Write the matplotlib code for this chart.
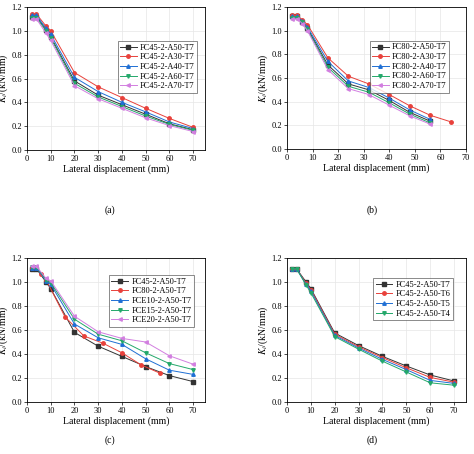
import matplotlib
matplotlib.use("Agg")
import matplotlib.pyplot as plt

plt.rcParams['font.family'] = ['Liberation Serif', 'DejaVu Serif']
plt.rcParams['mathtext.fontset'] = 'stix'

xa = [2, 4, 8, 10, 20, 30, 40, 50, 60, 70]
a_labels = ["FC45-2-A50-T7", "FC45-2-A30-T7", "FC45-2-A40-T7", "FC45-2-A60-T7", "FC45-2-A70-T7"]
a_vals = [
    [1.12, 1.12, 1.01, 0.95, 0.58, 0.46, 0.38, 0.30, 0.22, 0.17],
    [1.14, 1.14, 1.04, 1.00, 0.65, 0.53, 0.44, 0.35, 0.265, 0.19],
    [1.13, 1.13, 1.02, 0.97, 0.61, 0.49, 0.40, 0.32, 0.235, 0.18],
    [1.11, 1.11, 1.00, 0.94, 0.56, 0.445, 0.365, 0.285, 0.215, 0.165],
    [1.10, 1.10, 0.98, 0.92, 0.54, 0.43, 0.35, 0.27, 0.205, 0.155],
]

xb = [2, 4, 6, 8, 16, 24, 32, 40, 48, 56]
xb30 = [2, 4, 6, 8, 16, 24, 32, 40, 48, 56, 64]
b_labels = ["FC80-2-A50-T7", "FC80-2-A30-T7", "FC80-2-A40-T7", "FC80-2-A60-T7", "FC80-2-A70-T7"]
b_vals = [
    [1.12, 1.12, 1.07, 1.02, 0.71, 0.55, 0.50, 0.41, 0.31, 0.235],
    [1.13, 1.13, 1.09, 1.05, 0.77, 0.615, 0.55, 0.46, 0.365, 0.285, 0.23],
    [1.12, 1.12, 1.08, 1.03, 0.74, 0.575, 0.52, 0.43, 0.33, 0.25],
    [1.11, 1.11, 1.07, 1.01, 0.69, 0.53, 0.48, 0.39, 0.295, 0.22],
    [1.10, 1.10, 1.06, 1.00, 0.67, 0.51, 0.46, 0.37, 0.28, 0.21],
]
b_x = [xb, xb30, xb, xb, xb]

c_labels = ["FC45-2-A50-T7", "FC80-2-A50-T7", "FCE10-2-A50-T7", "FCE15-2-A50-T7", "FCE20-2-A50-T7"]
c_vals = [
    [1.11, 1.11, 1.00, 0.945, 0.58, 0.465, 0.38, 0.295, 0.22, 0.17],
    [1.12, 1.12, 1.07, 1.02, 0.71, 0.55, 0.49, 0.41, 0.31, 0.24],
    [1.12, 1.12, 1.01, 0.98, 0.65, 0.535, 0.48, 0.36, 0.265, 0.23],
    [1.125, 1.125, 1.02, 0.995, 0.69, 0.565, 0.51, 0.41, 0.32, 0.27],
    [1.13, 1.13, 1.03, 1.01, 0.715, 0.585, 0.53, 0.50, 0.385, 0.315],
]
c_x = [xa, xb, xa, xa, xa]

d_labels = ["FC45-2-A50-T7", "FC45-2-A50-T6", "FC45-2-A50-T5", "FC45-2-A50-T4"]
d_vals = [
    [1.11, 1.11, 1.00, 0.945, 0.575, 0.47, 0.38, 0.30, 0.225, 0.175],
    [1.11, 1.11, 0.99, 0.935, 0.565, 0.46, 0.37, 0.285, 0.205, 0.165],
    [1.11, 1.11, 0.98, 0.925, 0.555, 0.45, 0.355, 0.27, 0.18, 0.155],
    [1.11, 1.11, 0.975, 0.91, 0.545, 0.44, 0.34, 0.25, 0.16, 0.14],
]

colors = ['#333333', '#e8413b', '#1f6fd4', '#23a86a', '#d27fe0']
markers = ['s', 'o', '^', 'v', '<']

fig = plt.figure(figsize=(4.74, 4.54), dpi=100)
W, H = 474, 454
boxes = [(27, 7, 205, 150), (287, 7, 466, 149), (27, 258, 205, 402), (287, 258, 466, 402)]
panels = [(a_labels, [xa]*5, a_vals, (0.98, 0.79)),
          (b_labels, b_x, b_vals, (0.93, 0.79)),
          (c_labels, c_x, c_vals, (0.96, 0.91)),
          (d_labels, [xa]*4, d_vals, (0.95, 0.89))]
tags = ['(a)', '(b)', '(c)', '(d)']
tag_pos = [(110, 210), (372, 210), (110, 440), (372, 440)]

for i, ((l, t, r, b), (labels, xs, vals, anchor)) in enumerate(zip(boxes, panels)):
    ax = fig.add_axes([l / W, 1 - b / H, (r - l) / W, (b - t) / H])
    for j, (lab, x, y) in enumerate(zip(labels, xs, vals)):
        ax.plot(x, y, color=colors[j], marker=markers[j], markersize=2.5, lw=0.7, label=lab)
    ax.set_xlim(0, 75 if i != 1 else 70)
    ax.set_ylim(0, 1.2)
    ax.set_xticks(range(0, 71, 10))
    ax.set_yticks([0, 0.2, 0.4, 0.6, 0.8, 1.0, 1.2])
    ax.set_yticklabels(['0.0', '0.2', '0.4', '0.6', '0.8', '1.0', '1.2'])
    ax.grid(True, color='#e6e6e6', lw=0.5)
    ax.set_axisbelow(True)
    ax.tick_params(labelsize=6, length=2, width=0.5, pad=1.5)
    for s in ax.spines.values():
        s.set_linewidth(0.6)
    ax.set_xlabel('Lateral displacement (mm)', fontsize=7, labelpad=1)
    ax.set_ylabel('$K_i$/(kN/mm)', fontsize=7, labelpad=1)
    leg = ax.legend(loc='upper right', bbox_to_anchor=anchor, fontsize=6, frameon=True,
                    fancybox=False, edgecolor='#333333', handlelength=2.0,
                    borderpad=0.3, labelspacing=0.2, handletextpad=0.4)
    leg.get_frame().set_linewidth(0.5)
    fig.text(tag_pos[i][0] / W, 1 - tag_pos[i][1] / H, tags[i], ha='center', va='center', fontsize=7)

fig.savefig('out.png', dpi=100)
